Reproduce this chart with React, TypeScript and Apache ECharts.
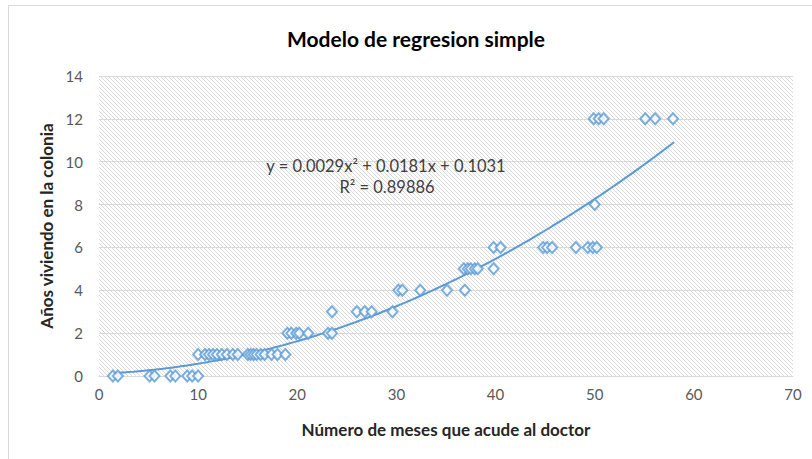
import React, { useEffect, useRef } from "react";
import * as echarts from "echarts";

// Observed data, grouped by "Años viviendo en la colonia"
const years = [0, 1, 2, 3, 4, 5, 6, 8, 12];
const monthsY0 = [1.4, 1.9, 5.1, 5.6, 7.2, 7.7, 8.9, 9.4, 10.0];
const monthsY1 = [10.0, 10.7, 11.1, 11.5, 11.9, 12.4, 12.9, 13.5, 14.0, 15.0, 15.3, 15.6, 15.9, 16.3, 16.7, 17.4, 18.0, 18.8];
const monthsY2 = [19.0, 19.4, 19.9, 20.2, 21.1, 23.1, 23.5];
const monthsY3 = [23.5, 26.0, 26.8, 27.5, 29.6];
const monthsY4 = [30.2, 30.6, 32.4, 35.1, 36.9];
const monthsY5 = [36.8, 37.2, 37.5, 37.9, 38.2, 39.8];
const monthsY6 = [39.8, 40.5, 44.8, 45.2, 45.7, 48.1, 49.3, 49.8, 50.2];
const monthsY8 = [50.0];
const monthsY12 = [49.9, 50.4, 50.9, 55.1, 56.1, 57.9];
const monthGroups = [monthsY0, monthsY1, monthsY2, monthsY3, monthsY4, monthsY5, monthsY6, monthsY8, monthsY12];

// Polynomial trendline shown on the chart
const trendA = 0.0029;
const trendB = 0.0181;
const trendC = 0.1031;
const trendStart = 1.5;
const trendEnd = 58;

const xTicks = [0, 10, 20, 30, 40, 50, 60, 70];
const yTicks = [0, 2, 4, 6, 8, 10, 12, 14];

const titleText = "Modelo de regresion simple";
const xTitle = "Número de meses que acude al doctor";
const yTitle = "Años viviendo en la colonia";
const eqText = "y = 0.0029x² + 0.0181x + 0.1031";
const r2Text = "R² = 0.89886";

const BLUE = "#5B9BD5";
const FONT = "Lato, 'Open Sans', sans-serif";

function makeHatch(): string {
  const c = document.createElement("canvas");
  c.width = 4;
  c.height = 4;
  const ctx = c.getContext("2d");
  if (ctx) {
    ctx.fillStyle = "#ffffff";
    ctx.fillRect(0, 0, 4, 4);
    ctx.strokeStyle = "#dadada";
    ctx.lineWidth = 1;
    ctx.beginPath();
    ctx.moveTo(-1, -1);
    ctx.lineTo(5, 5);
    ctx.moveTo(-1, 3);
    ctx.lineTo(1, 5);
    ctx.moveTo(3, -1);
    ctx.lineTo(5, 1);
    ctx.stroke();
  }
  return c.toDataURL();
}

export default function App() {
  const ref = useRef<HTMLDivElement>(null);
  useEffect(() => {
    if (!ref.current) return;
    const chart = echarts.init(ref.current, null, { renderer: "svg" });
    const points: number[][] = [];
    monthGroups.forEach((g, i) => g.forEach((m) => points.push([m, years[i]])));
    const trend: number[][] = [];
    for (let x = trendStart; x <= trendEnd + 1e-9; x += 0.5) {
      trend.push([x, trendA * x * x + trendB * x + trendC]);
    }
    const hatch = makeHatch();
    chart.setOption({
      animation: false,
      backgroundColor: "#ffffff",
      grid: {
        left: 99,
        right: 19,
        top: 76,
        bottom: 83,
        show: true,
        borderWidth: 0,
        backgroundColor: { image: hatch, repeat: "repeat" },
      },
      xAxis: {
        type: "value",
        min: 0,
        max: 70,
        interval: 10,
        name: xTitle,
        nameLocation: "middle",
        nameGap: 45,
        nameTextStyle: { fontFamily: FONT, fontWeight: "bold", fontSize: 17, color: "#262626" },
        axisLine: { show: true, lineStyle: { color: "#d9d9d9", width: 1 } },
        axisTick: { show: false },
        splitLine: { show: false },
        axisLabel: {
          fontFamily: FONT,
          fontSize: 15,
          color: "#595959",
          margin: 10,
          formatter: (v: number) => (xTicks.includes(v) ? String(v) : ""),
        },
      },
      yAxis: {
        type: "value",
        min: 0,
        max: 14,
        interval: 2,
        name: yTitle,
        nameLocation: "middle",
        nameGap: 43,
        nameTextStyle: { fontFamily: FONT, fontWeight: "bold", fontSize: 17, color: "#262626" },
        axisLine: { show: false },
        axisTick: { show: false },
        splitLine: { show: true, lineStyle: { color: "#d9d9d9", width: 1 } },
        axisLabel: {
          fontFamily: FONT,
          fontSize: 15,
          color: "#595959",
          margin: 16,
          formatter: (v: number) => (yTicks.includes(v) ? String(v) : ""),
        },
      },
      graphic: [
        {
          type: "rect",
          shape: { x: 8.5, y: 5.5, width: 820, height: 460 },
          style: { fill: "none", stroke: "#d9d9d9", lineWidth: 1 },
          silent: true,
        },
        {
          type: "text",
          x: 416,
          y: 38,
          style: {
            text: titleText,
            fontFamily: FONT,
            fontWeight: "bold",
            fontSize: 21,
            fill: "#000000",
            textAlign: "center",
            textVerticalAlign: "middle",
          },
        },
        {
          type: "text",
          x: 386,
          y: 166,
          z: 10,
          style: {
            text: eqText,
            fontFamily: FONT,
            fontSize: 16.5,
            fill: "#404040",
            textAlign: "center",
            textVerticalAlign: "middle",
          },
        },
        {
          type: "text",
          x: 387,
          y: 187,
          z: 10,
          style: {
            text: r2Text,
            fontFamily: FONT,
            fontSize: 16.5,
            fill: "#404040",
            textAlign: "center",
            textVerticalAlign: "middle",
          },
        },
      ],
      series: [
        {
          type: "line",
          data: trend,
          showSymbol: false,
          symbol: "none",
          smooth: true,
          lineStyle: { color: BLUE, width: 2 },
          z: 3,
        },
        {
          type: "scatter",
          data: points,
          symbol: "diamond",
          symbolSize: [10, 11],
          itemStyle: { color: "#ffffff", borderColor: BLUE, borderWidth: 2 },
          z: 4,
        },
      ],
    });
    return () => chart.dispose();
  }, []);
  return (
    <div
      ref={ref}
      style={{ position: "fixed", left: 0, top: 0, width: 812, height: 459 }}
    />
  );
}
